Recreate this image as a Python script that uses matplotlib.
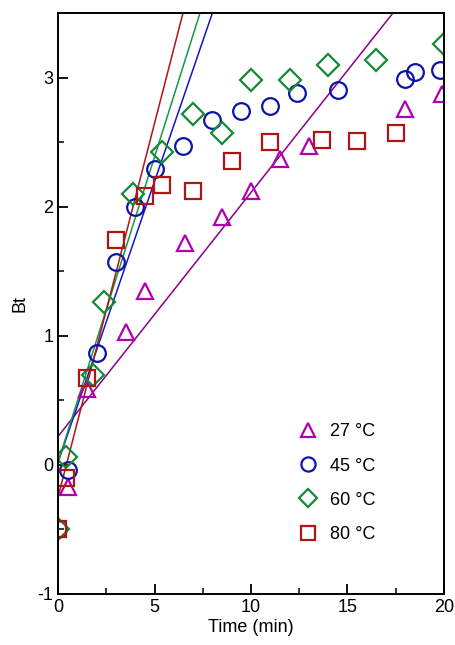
import numpy as np
import matplotlib.pyplot as plt

plt.rcParams['font.family'] = ['Liberation Sans', 'DejaVu Sans']
plt.rcParams['axes.unicode_minus'] = False

# measured Bt vs time for each temperature
t27 = [0.5, 1.5, 3.5, 4.5, 6.6, 8.5, 10.0, 11.5, 13.0, 18.0, 19.9]
bt27 = [-0.17, 0.59, 1.03, 1.35, 1.72, 1.92, 2.12, 2.37, 2.47, 2.76, 2.87]

t45 = [0.0, 0.5, 2.0, 3.0, 4.0, 5.0, 6.5, 8.0, 9.5, 11.0, 12.4, 14.5, 18.0, 18.5, 19.8]
bt45 = [-0.5, -0.04, 0.87, 1.57, 2.0, 2.29, 2.47, 2.67, 2.74, 2.78, 2.88, 2.9, 2.99, 3.04, 3.06]

t60 = [0.0, 0.4, 1.8, 2.4, 3.9, 5.4, 7.0, 8.5, 10.0, 12.0, 14.0, 16.5, 20.0]
bt60 = [-0.5, 0.06, 0.7, 1.26, 2.1, 2.42, 2.72, 2.57, 2.98, 2.98, 3.1, 3.14, 3.26]

t80 = [0.0, 0.4, 1.5, 3.0, 4.5, 5.4, 7.0, 9.0, 11.0, 13.7, 15.5, 17.5]
bt80 = [-0.5, -0.1, 0.67, 1.74, 2.08, 2.17, 2.12, 2.35, 2.5, 2.52, 2.51, 2.57]

# linear fits: (intercept, slope)
fit27 = (0.22, 0.189)
fit45 = (0.02, 0.435)
fit60 = (0.02, 0.473)
fit80 = (-0.25, 0.579)

labels = ['27 °C', '45 °C', '60 °C', '80 °C']

fig = plt.figure(figsize=(4.55, 6.45), dpi=100)
ax = fig.add_axes([0.1275, 0.0791, 0.8483, 0.9007])

series = [
    (t27, bt27, fit27, '^', '#b000b0', '#8a008a', labels[0]),
    (t45, bt45, fit45, 'o', '#0a14a8', '#1414c8', labels[1]),
    (t60, bt60, fit60, 'D', '#138a38', '#149a44', labels[2]),
    (t80, bt80, fit80, 's', '#b01414', '#b01414', labels[3]),
]

xfit = np.array([0.0, 20.0])
for t, bt, (b0, b1), mk, col, lcol, lab in series:
    ax.plot(xfit, b0 + b1 * xfit, color=lcol, lw=1.1)

for t, bt, (b0, b1), mk, col, lcol, lab in series:
    ms = 11 if mk == 'D' else 12
    ax.plot(t, bt, ls='none', marker=mk, ms=ms, mfc='none', mec=col, mew=1.6,
            label=lab)

ax.set_xlim(0, 20)
ax.set_ylim(-1, 3.5)
ax.set_xticks([0, 5, 10, 15, 20])
ax.set_xticks([2.5, 7.5, 12.5, 17.5], minor=True)
ax.set_yticks([-1, 0, 1, 2, 3])
ax.set_yticks([-0.5, 0.5, 1.5, 2.5], minor=True)
ax.tick_params(which='both', direction='in', labelsize=13, top=False, right=False)
ax.tick_params(which='major', length=7, width=1.3)
ax.tick_params(which='minor', length=4, width=1.1)
for s in ax.spines.values():
    s.set_linewidth(1.4)

ax.set_xlabel('Time (min)', fontsize=13, labelpad=2)
ax.set_ylabel('Bt', fontsize=13, labelpad=6)

ax.legend(loc='lower right', bbox_to_anchor=(0.865, 0.06), frameon=False,
          fontsize=13, handletextpad=0.6, labelspacing=0.95, handlelength=1.2,
          markerscale=0.85)

fig.savefig('out.png', dpi=100)
